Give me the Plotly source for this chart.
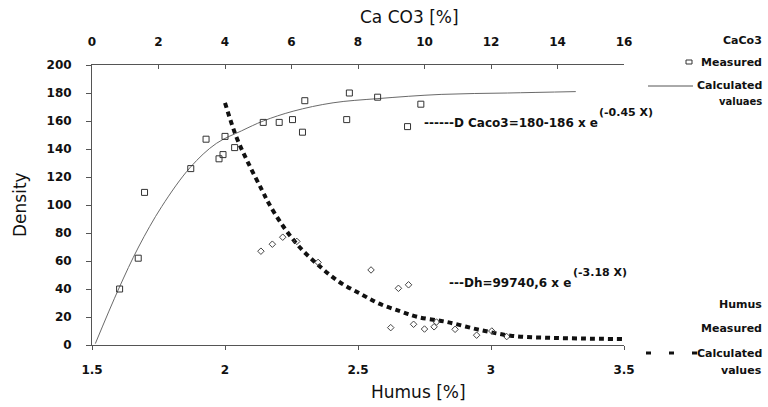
import plotly.graph_objects as go

# ---- CaCO3 (top axis) ----
caco3_measured_x = [0.83, 1.39, 1.58, 2.97, 3.43, 3.82, 3.94, 4.00, 4.29, 5.15, 5.63, 6.03, 6.33, 6.40, 7.66, 7.74, 8.59, 9.49, 9.89]
caco3_measured_y = [40, 62, 109, 126, 147, 133, 136, 149, 141, 159, 159, 161, 152, 174.5, 161, 180, 177, 156, 172]
caco3_calc_x = [0.1, 0.8, 1.4, 2.1, 2.96, 3.74, 4.5, 5.15, 6.05, 7.25, 8.6, 10.5, 12.5, 14.55]
caco3_calc_y = [1, 40, 70, 99, 127, 144, 153, 160, 167, 173, 176, 179, 180, 181]

# ---- Humus (bottom axis) ----
humus_measured_x = [2.135, 2.178, 2.217, 2.27, 2.35, 2.549, 2.623, 2.652, 2.69, 2.709, 2.75, 2.786, 2.795, 2.865, 2.946, 3.003, 3.059]
humus_measured_y = [67, 72, 77, 74, 59, 53.6, 12.4, 40.5, 43, 14.8, 11.4, 13, 16.4, 11.2, 7, 10, 6]
humus_calc_x = [2.0, 2.044, 2.09, 2.138, 2.165, 2.218, 2.28, 2.357, 2.43, 2.51, 2.58, 2.66, 2.725, 2.83, 2.96, 3.08, 3.21, 3.35, 3.5]
humus_calc_y = [173, 148, 129, 111, 101, 85, 70, 56, 45, 36.5, 29.5, 24, 20, 16.6, 10.7, 6.5, 5.2, 4.6, 4.2]

y_ticks = [0, 20, 40, 60, 80, 100, 120, 140, 160, 180, 200]
humus_ticks = [1.5, 2, 2.5, 3, 3.5]
humus_tick_labels = ["1.5", "2", "2.5", "3", "3.5"]
caco3_ticks = [0, 2, 4, 6, 8, 10, 12, 14, 16]

FONT = "DejaVu Sans"
L, R, T, B = 92, 144, 65, 62
W, H = 768, 407
PW, PH = W - L - R, H - T - B


def px(x):
    return (x - L) / PW


def py(y):
    return (H - B - y) / PH


fig = go.Figure()
fig.add_trace(go.Scatter(x=caco3_calc_x, y=caco3_calc_y, xaxis="x2", mode="lines",
                         line=dict(color="#6a6a6a", width=1, shape="spline"), showlegend=False))
fig.add_trace(go.Scatter(x=caco3_measured_x, y=caco3_measured_y, xaxis="x2", mode="markers",
                         marker=dict(symbol="square-open", size=6, color="#333333", line=dict(width=1)),
                         showlegend=False))
fig.add_trace(go.Scatter(x=humus_calc_x, y=humus_calc_y, mode="lines",
                         line=dict(color="#111111", width=4, dash="5px,4px", shape="spline"), showlegend=False))
fig.add_trace(go.Scatter(x=humus_measured_x, y=humus_measured_y, mode="markers",
                         marker=dict(symbol="diamond-open", size=5, color="#444444", line=dict(width=1)),
                         showlegend=False))

tickfont = dict(family=FONT, size=12, color="#111111", weight="bold")
fig.update_layout(
    width=W, height=H, margin=dict(l=L, r=R, t=T, b=B),
    paper_bgcolor="white", plot_bgcolor="white",
    showlegend=False,
    xaxis=dict(range=[1.5, 3.5], tickvals=humus_ticks, ticktext=humus_tick_labels,
               showgrid=False, zeroline=False, showline=True, linecolor="#555555", linewidth=1,
               ticks="outside", ticklen=4, tickcolor="#555555", tickfont=tickfont, ticklabelstandoff=10),
    xaxis2=dict(range=[0, 16], tickvals=caco3_ticks, overlaying="x", side="top",
                showgrid=False, zeroline=False, showline=True, linecolor="#555555", linewidth=1,
                ticks="inside", ticklen=4, tickcolor="#555555", tickfont=tickfont, ticklabelstandoff=13),
    yaxis=dict(range=[0, 200], tickvals=y_ticks, showgrid=False, zeroline=False,
               showline=True, linecolor="#555555", linewidth=1,
               ticks="outside", ticklen=5, tickcolor="#555555", tickfont=tickfont, ticklabelstandoff=12),
)

ann = []


def text(s, x, y, anchor="left", size=12, bold=True):
    ann.append(dict(text=s, x=px(x), y=py(y), xref="paper", yref="paper", xanchor=anchor,
                    yanchor="middle", showarrow=False,
                    font=dict(family=FONT, size=size, color="#111111", weight="bold" if bold else "normal")))


# axis titles
text("Ca CO3 [%]", 409, 17, anchor="center", size=17, bold=False)
text("Humus [%]", 418, 392, anchor="center", size=17, bold=False)
ann.append(dict(text="Density", x=px(20), y=py(205), xref="paper", yref="paper", xanchor="center",
                yanchor="middle", showarrow=False, textangle=-90,
                font=dict(family=FONT, size=17, color="#111111")))

# equations
text("------D Caco3=180-186 x e", 422, 123, size=12)
text("(-0.45 X)", 597, 113, size=11)
text("---Dh=99740,6 x e", 447, 283, size=12)
text("(-3.18 X)", 571, 272, size=11)

# legend texts
text("CaCo3", 764, 40, anchor="right", size=11)
text("Measured", 764, 62, anchor="right", size=11)
text("Calculated", 764, 86, anchor="right", size=11)
text("valuaes", 764, 101, anchor="right", size=10)
text("Humus", 764, 304, anchor="right", size=11)
text("Measured", 764, 328, anchor="right", size=11)
text("Calculated", 764, 353, anchor="right", size=11)
text("values", 764, 370, anchor="right", size=11)
fig.update_layout(annotations=ann)

shapes = [
    dict(type="rect", xref="paper", yref="paper", x0=px(686), x1=px(692), y0=py(64), y1=py(60),
         line=dict(color="#333333", width=1)),
    dict(type="line", xref="paper", yref="paper", x0=px(648), x1=px(693), y0=py(86), y1=py(86),
         line=dict(color="#555555", width=1)),
    dict(type="line", xref="paper", yref="paper", x0=px(646), x1=px(697), y0=py(353), y1=py(353),
         line=dict(color="#111111", width=3, dash="5px,18px")),
]
fig.update_layout(shapes=shapes)

fig.write_html("out.html", config={"displayModeBar": False},
               post_script="document.body.style.margin='0';document.body.style.padding='0';")
